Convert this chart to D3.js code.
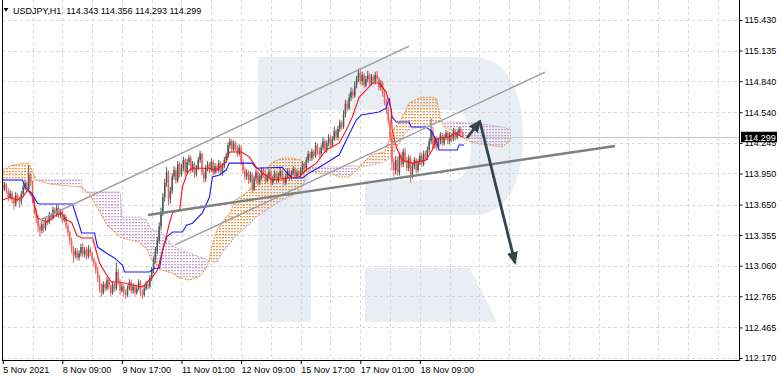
<!DOCTYPE html>
<html><head><meta charset="utf-8">
<script src="https://cdn.jsdelivr.net/npm/d3@7"></script>
<style>
body{margin:0;background:#fff;}
svg{display:block;font-family:"Liberation Sans",Arial,sans-serif;}
</style>
</head><body>
<svg id="chart" width="782" height="380"></svg>
<script>
// ---------- data ----------
const symbol = "USDJPY,H1";
const headerOHLC = ["114.343", "114.356", "114.293", "114.299"];
const lastPrice = 114.299;
const priceTicks = [115.430, 115.135, 114.840, 114.540, 114.245, 113.950, 113.650, 113.355, 113.060, 112.765, 112.465, 112.170];
const timeLabels = ["5 Nov 2021", "8 Nov 09:00", "9 Nov 17:00", "11 Nov 01:00", "12 Nov 09:00", "15 Nov 17:00", "17 Nov 01:00", "18 Nov 09:00"];
const timeLabelBars = [0, 32, 64, 96, 128, 160, 192, 224];

const opens = [
113.86,113.80,113.84,113.78,113.72,113.76,113.70,113.66,113.74,113.71,
113.68,113.75,113.82,113.86,113.80,113.94,113.86,113.70,113.58,113.52,
113.44,113.40,113.46,113.42,113.50,113.48,113.55,113.52,113.60,113.56,
113.62,113.55,113.58,113.50,113.53,113.44,113.38,113.30,113.22,113.16,
113.20,113.14,113.18,113.24,113.17,113.21,113.15,113.22,113.18,113.12,
113.08,113.02,112.94,112.86,112.80,112.88,112.84,112.92,112.86,112.80,
112.88,112.84,113.00,112.90,112.82,112.86,112.80,112.78,112.84,112.90,
112.82,112.86,112.80,112.84,112.90,112.80,112.78,112.84,112.88,112.86,
112.94,113.02,113.12,113.20,113.30,113.44,113.58,113.72,113.86,113.96,
113.70,113.78,113.92,113.98,113.88,114.04,113.94,114.00,114.08,113.96,
114.06,114.10,113.98,114.04,113.94,114.00,114.08,114.14,113.96,113.90,
114.00,114.04,113.98,114.06,113.96,114.02,113.98,114.05,113.96,114.02,
114.08,114.12,114.22,114.26,114.18,114.24,114.20,114.14,114.20,114.06,
113.98,113.92,113.96,113.88,113.94,113.80,113.90,113.96,113.86,113.92,
113.98,113.94,113.88,113.92,113.96,113.86,113.90,113.95,113.88,113.93,
113.97,113.90,113.86,113.92,113.97,113.91,113.95,113.99,113.92,113.96,
113.94,113.98,114.04,114.00,114.08,114.14,114.10,114.16,114.12,114.22,
114.17,114.14,114.20,114.26,114.18,114.24,114.30,114.22,114.28,114.36,
114.30,114.38,114.44,114.40,114.52,114.62,114.58,114.68,114.74,114.70,
114.80,114.86,114.92,114.84,114.90,114.80,114.86,114.90,114.82,114.88,
114.84,114.90,114.86,114.78,114.82,114.72,114.64,114.56,114.46,114.30,
114.06,113.98,114.08,113.96,114.12,114.04,114.16,114.08,114.00,114.10,
113.94,114.02,114.08,113.98,114.06,114.12,114.04,114.14,114.10,114.18,
114.26,114.36,114.22,114.28,114.20,114.26,114.32,114.24,114.30,114.34,
114.26,114.32,114.28,114.36,114.30,114.34,114.38,114.343];
const highs = [
113.90,113.87,113.86,113.81,113.79,113.78,113.73,113.77,113.76,113.73,
113.78,113.84,113.89,113.88,114.03,113.96,113.88,113.72,113.61,113.55,
113.47,113.49,113.48,113.53,113.52,113.58,113.57,113.63,113.62,113.65,
113.64,113.61,113.60,113.56,113.55,113.47,113.40,113.33,113.25,113.23,
113.23,113.21,113.27,113.28,113.24,113.24,113.26,113.24,113.20,113.14,
113.10,113.05,112.97,112.89,112.91,112.90,112.95,112.94,112.88,112.91,
112.90,113.09,113.03,112.93,112.89,112.88,112.83,112.87,112.93,112.92,
112.89,112.88,112.87,112.93,112.92,112.83,112.87,112.91,112.90,112.97,
113.05,113.15,113.24,113.34,113.48,113.62,113.76,113.90,114.01,113.98,
113.82,113.95,114.02,114.01,114.07,114.06,114.04,114.11,114.10,114.09,
114.13,114.12,114.07,114.06,114.03,114.11,114.17,114.15,113.99,114.03,
114.07,114.06,114.09,114.08,114.05,114.04,114.08,114.07,114.05,114.11,
114.15,114.25,114.29,114.28,114.27,114.26,114.22,114.23,114.22,114.09,
114.01,113.99,113.98,113.97,113.96,113.93,113.99,113.98,113.95,114.01,
114.01,113.97,113.95,113.99,113.98,113.93,113.98,113.97,113.96,114.00,
113.99,113.93,113.95,114.00,113.99,113.98,114.02,114.01,113.99,113.98,
114.01,114.07,114.06,114.11,114.17,114.16,114.19,114.18,114.25,114.24,
114.20,114.23,114.30,114.28,114.27,114.33,114.32,114.31,114.40,114.38,
114.41,114.47,114.46,114.56,114.66,114.65,114.72,114.78,114.77,114.84,
114.89,114.96,114.95,114.93,114.92,114.89,114.94,114.92,114.91,114.90,
114.93,114.94,114.88,114.85,114.84,114.75,114.67,114.59,114.49,114.33,
114.10,114.12,114.11,114.15,114.15,114.19,114.20,114.11,114.13,114.12,
114.05,114.11,114.10,114.09,114.15,114.15,114.17,114.17,114.21,114.29,
114.48,114.40,114.31,114.31,114.29,114.35,114.34,114.33,114.37,114.36,
114.35,114.34,114.39,114.38,114.36,114.40,114.40,114.356];
const lows = [
113.76,113.78,113.75,113.68,113.70,113.66,113.60,113.63,113.68,113.62,
113.65,113.72,113.79,113.77,113.78,113.83,113.66,113.55,113.47,113.38,
113.34,113.37,113.38,113.40,113.45,113.46,113.49,113.50,113.54,113.53,
113.52,113.52,113.47,113.48,113.41,113.34,113.26,113.18,113.09,113.13,
113.11,113.11,113.15,113.14,113.14,113.12,113.13,113.15,113.10,113.05,
112.98,112.90,112.80,112.76,112.78,112.81,112.82,112.83,112.77,112.78,
112.81,112.82,112.87,112.78,112.80,112.77,112.74,112.76,112.82,112.79,
112.79,112.77,112.78,112.82,112.77,112.74,112.76,112.82,112.83,112.84,
112.91,112.99,113.08,113.17,113.27,113.40,113.54,113.68,113.82,113.64,
113.66,113.75,113.89,113.85,113.86,113.91,113.92,113.97,113.93,113.94,
114.03,113.95,113.96,113.91,113.92,113.98,114.05,113.93,113.86,113.87,
113.97,113.95,113.96,113.93,113.94,113.95,113.96,113.93,113.93,114.00,
114.05,114.10,114.19,114.15,114.16,114.17,114.11,114.12,114.03,113.95,
113.88,113.89,113.85,113.86,113.76,113.78,113.87,113.83,113.84,113.89,
113.91,113.85,113.86,113.89,113.83,113.84,113.88,113.85,113.86,113.91,
113.87,113.83,113.84,113.90,113.88,113.89,113.93,113.90,113.90,113.91,
113.91,113.95,113.97,113.98,114.05,114.07,114.07,114.09,114.10,114.13,
114.10,114.11,114.17,114.15,114.15,114.21,114.19,114.20,114.26,114.27,
114.27,114.35,114.37,114.38,114.49,114.55,114.56,114.65,114.67,114.68,
114.77,114.83,114.81,114.80,114.77,114.78,114.83,114.79,114.80,114.81,
114.81,114.83,114.75,114.75,114.69,114.61,114.52,114.42,114.26,113.98,
113.92,113.94,113.93,113.93,114.01,114.01,114.05,113.97,113.97,113.86,
113.90,113.99,113.95,113.96,114.03,114.01,114.02,114.07,114.08,114.15,
114.23,114.18,114.19,114.17,114.18,114.23,114.21,114.22,114.27,114.23,
114.23,114.25,114.26,114.27,114.28,114.31,114.32,114.293];
const closes = [
113.80,113.84,113.78,113.72,113.76,113.70,113.66,113.74,113.71,113.68,
113.75,113.82,113.86,113.80,113.94,113.86,113.70,113.58,113.52,113.44,
113.40,113.46,113.42,113.50,113.48,113.55,113.52,113.60,113.56,113.62,
113.55,113.58,113.50,113.53,113.44,113.38,113.30,113.22,113.16,113.20,
113.14,113.18,113.24,113.17,113.21,113.15,113.22,113.18,113.12,113.08,
113.02,112.94,112.86,112.80,112.88,112.84,112.92,112.86,112.80,112.88,
112.84,113.00,112.90,112.82,112.86,112.80,112.78,112.84,112.90,112.82,
112.86,112.80,112.84,112.90,112.80,112.78,112.84,112.88,112.86,112.94,
113.02,113.12,113.20,113.30,113.44,113.58,113.72,113.86,113.96,113.70,
113.78,113.92,113.98,113.88,114.04,113.94,114.00,114.08,113.96,114.06,
114.10,113.98,114.04,113.94,114.00,114.08,114.14,113.96,113.90,114.00,
114.04,113.98,114.06,113.96,114.02,113.98,114.05,113.96,114.02,114.08,
114.12,114.22,114.26,114.18,114.24,114.20,114.14,114.20,114.06,113.98,
113.92,113.96,113.88,113.94,113.80,113.90,113.96,113.86,113.92,113.98,
113.94,113.88,113.92,113.96,113.86,113.90,113.95,113.88,113.93,113.97,
113.90,113.86,113.92,113.97,113.91,113.95,113.99,113.92,113.96,113.94,
113.98,114.04,114.00,114.08,114.14,114.10,114.16,114.12,114.22,114.17,
114.14,114.20,114.26,114.18,114.24,114.30,114.22,114.28,114.36,114.30,
114.38,114.44,114.40,114.52,114.62,114.58,114.68,114.74,114.70,114.80,
114.86,114.92,114.84,114.90,114.80,114.86,114.90,114.82,114.88,114.84,
114.90,114.86,114.78,114.82,114.72,114.64,114.56,114.46,114.30,114.06,
113.98,114.08,113.96,114.12,114.04,114.16,114.08,114.00,114.10,113.94,
114.02,114.08,113.98,114.06,114.12,114.04,114.14,114.10,114.18,114.26,
114.36,114.22,114.28,114.20,114.26,114.32,114.24,114.30,114.34,114.26,
114.32,114.28,114.36,114.30,114.34,114.38,114.343,114.299];

// Ichimoku lines (bar index, price)
const tenkanBars = [0,3.8,7.5,10.7,13.4,16.1,18.8,23.6,29,31.6,34.3,37,39.7,42.4,48.3,50.4,52,55.8,58.4,62.7,69.7,75,77.7,80.4,83.1,87.4,89.5,91.2,95,96.5,98.7,100.3,101.9,111,114.7,120,121.7,128.2,132.4,136.2,139.4,144.8,153.9,159.2,163,168.4,173.7,180.7,184.5,187.7,191.4,195.2,198.4,202.1,205.9,208.6,209.1,211.3,214.5,219.8,227.3,230.6,232.7,234.3,239.7,243.4,246.6];
const tenkanVals = [113.694,113.72,113.694,113.72,113.79,113.72,113.52,113.48,113.55,113.57,113.50,113.48,113.357,113.327,113.327,113.19,113.086,112.97,112.903,112.903,112.874,112.855,112.903,112.95,113.02,113.308,113.47,113.57,113.597,113.82,113.935,113.983,114.0,114.0,113.983,114.06,114.157,114.157,114.11,114.01,113.955,113.887,113.906,113.916,113.983,114.05,114.176,114.244,114.369,114.494,114.687,114.755,114.822,114.822,114.735,114.562,114.369,114.205,114.08,114.05,114.08,114.176,114.273,114.292,114.302,114.34,114.302];
const kijunBars = [0,10.7,11.8,15.5,18.8,19.8,37.5,39.7,42.4,49.3,50.9,55.8,60,64.3,65.4,78.8,81.5,84.2,85.8,88,91.2,96.5,98.7,101.9,107.2,111,112.6,116.4,120,121.7,134,136.2,150.1,152.3,155.5,160.9,164.6,170,173.7,180.7,184.5,189.8,192.5,202,205.9,207.5,209.1,211.3,218.2,219.3,227.3,230,232.7,234.3,244,245,247.7];
const kijunVals = [113.887,113.887,113.82,113.76,113.66,113.655,113.655,113.53,113.376,113.376,113.24,113.18,113.135,113.067,113.0,113.0,113.035,113.035,113.21,113.337,113.385,113.385,113.45,113.47,113.57,113.72,113.916,113.935,113.983,114.05,114.05,114.0,114.01,113.96,113.906,113.906,113.955,114.01,114.05,114.13,114.273,114.465,114.514,114.543,114.58,114.678,114.495,114.446,114.446,114.398,114.398,114.36,114.273,114.176,114.176,114.224,114.224];
const cloudBars = [0,5,14,18,25,42,43,47,50,56,63,64,73,77,80,85,91,95,100,106,110,113,115,118,122,125,130,136,140,145,150,155,160,163,165,170,175,181,186,190,194,198,205,209,213,216,218,224,230,233,235,237,242,249,253,261,268,273];
const spanA = [113.983,114.031,114.051,113.887,113.848,113.819,113.810,113.742,113.646,113.453,113.337,113.327,113.289,113.231,113.115,113.019,112.990,112.942,112.922,112.961,113.057,113.289,113.405,113.482,113.569,113.694,113.752,113.858,113.964,114.060,114.099,114.099,114.080,114.003,113.983,113.945,113.954,113.916,113.916,113.983,114.060,114.128,114.157,114.350,114.446,114.543,114.629,114.678,114.687,114.668,114.485,114.398,114.359,114.273,114.244,114.224,114.205,114.273];
const spanB = [113.887,113.887,113.887,113.887,113.887,113.887,113.771,113.771,113.771,113.771,113.771,113.530,113.530,113.501,113.405,113.385,113.260,113.212,113.183,113.144,113.115,113.096,113.096,113.192,113.279,113.347,113.424,113.530,113.578,113.636,113.694,113.733,113.790,113.906,114.003,114.012,114.012,114.012,114.022,114.022,114.022,114.031,114.060,114.128,114.244,114.340,114.369,114.398,114.427,114.446,114.446,114.446,114.446,114.437,114.437,114.417,114.398,114.369];

// drawn objects (bar index, price)
const channelUpper = [[20.0, 113.501], [218.2, 115.179]];
const channelLower = [[92.5, 113.260], [291.2, 114.928]];
const supportLine = [[78.0, 113.549], [328.8, 114.215]];
const arrowUp = [[249.3, 114.292], [256.3, 114.456]];
const arrowDown = [[256.3, 114.446], [275.1, 113.086]];

// ---------- drawing ----------
const W = 782, H = 380;
const plotL = 2, plotR = 739.5, plotT = 0, plotB = 360;
const svg = d3.select("#chart");
const x = d3.scaleLinear().domain([0, 224]).range([2.7, 419.9]);
const y = d3.scaleLinear().domain([112.170, 115.430]).range([358, 20]);

svg.append("rect").attr("width", W).attr("height", H).attr("fill", "#fff");

const defs = svg.append("defs");
defs.append("clipPath").attr("id", "plotClip").append("rect")
  .attr("x", plotL).attr("y", plotT).attr("width", plotR - plotL).attr("height", plotB - plotT);
function hatch(id, color) {
  const p = defs.append("pattern").attr("id", id).attr("patternUnits", "userSpaceOnUse")
    .attr("width", 3).attr("height", 3);
  p.append("rect").attr("x", 0).attr("y", 0).attr("width", 2).attr("height", 1.3).attr("fill", color);
}
hatch("hatchA", "#ee9a4e");
hatch("hatchB", "#c9a3d2");
const cloud = cloudBars.map((b, i) => ({ b, a: spanA[i], s: spanB[i] }));
defs.append("clipPath").attr("id", "clipAboveB").append("path")
  .attr("d", d3.area().x(d => x(d.b)).y0(0).y1(d => y(d.s))(cloud));
defs.append("clipPath").attr("id", "clipAboveA").append("path")
  .attr("d", d3.area().x(d => x(d.b)).y0(0).y1(d => y(d.a))(cloud));
const mk = defs.append("marker").attr("id", "ahead").attr("markerUnits", "userSpaceOnUse")
  .attr("markerWidth", 13).attr("markerHeight", 11).attr("refX", 11).attr("refY", 5.5)
  .attr("orient", "auto").attr("viewBox", "0 0 13 11");
mk.append("path").attr("d", "M0,0 L13,5.5 L0,11 Z").attr("fill", "#36444b");

const g = svg.append("g").attr("clip-path", "url(#plotClip)");

// watermark
g.append("path").attr("fill", "#e9eef5")
  .attr("d", "M258,57 L473,57 C505,57 523,88 523,136 C523,186 505,215 473,215 L365,215 L365,180 L453,180 C465,180 471,165 471,145 C471,125 465,110 453,110 L311,110 L311,322 L258,322 Z M365,268 L470,268 L497,322 L365,322 Z");

// grid
const gridV = [];
for (let b = 16; x(b) < plotR; b += 16) gridV.push(b);
g.selectAll(".gv").data(gridV).join("line")
  .attr("x1", d => Math.round(x(d)) + 0.5).attr("x2", d => Math.round(x(d)) + 0.5)
  .attr("y1", plotT).attr("y2", plotB)
  .attr("stroke", "#d6d6d6").attr("stroke-dasharray", "3,3");
g.selectAll(".gh").data(priceTicks).join("line")
  .attr("x1", plotL).attr("x2", plotR)
  .attr("y1", d => Math.round(y(d)) + 0.5).attr("y2", d => Math.round(y(d)) + 0.5)
  .attr("stroke", "#d6d6d6").attr("stroke-dasharray", "3,3");

// last price line
g.append("line").attr("x1", plotL).attr("x2", plotR)
  .attr("y1", Math.round(y(lastPrice)) + 0.5).attr("y2", Math.round(y(lastPrice)) + 0.5)
  .attr("stroke", "#c8c8c8");

// cloud
const between = d3.area().x(d => x(d.b)).y0(d => y(d.a)).y1(d => y(d.s));
g.append("path").attr("d", between(cloud)).attr("fill", "url(#hatchA)").attr("clip-path", "url(#clipAboveB)");
g.append("path").attr("d", between(cloud)).attr("fill", "url(#hatchB)").attr("clip-path", "url(#clipAboveA)");
g.append("path").attr("d", d3.line().x(d => x(d.b)).y(d => y(d.s))(cloud))
  .attr("fill", "none").attr("stroke", "#cda9d4").attr("stroke-width", 1.1).attr("stroke-dasharray", "2,1");
g.append("path").attr("d", d3.line().x(d => x(d.b)).y(d => y(d.a))(cloud))
  .attr("fill", "none").attr("stroke", "#ee9a4e").attr("stroke-width", 1.1).attr("stroke-dasharray", "2,1");

// candles
const bars = closes.map((c, i) => ({ i, o: opens[i], h: highs[i], l: lows[i], c }));
const bull = "#4a5b57", bear = "#f25f5c";
g.selectAll(".wick").data(bars).join("line")
  .attr("x1", d => x(d.i)).attr("x2", d => x(d.i))
  .attr("y1", d => y(d.h)).attr("y2", d => y(d.l))
  .attr("stroke", d => d.c >= d.o ? bull : bear).attr("stroke-width", 1);
g.selectAll(".body").data(bars).join("rect")
  .attr("x", d => x(d.i) - 0.75).attr("width", 1.5)
  .attr("y", d => y(Math.max(d.o, d.c)))
  .attr("height", d => Math.max(1, Math.abs(y(d.o) - y(d.c))))
  .attr("fill", d => d.c >= d.o ? bull : bear);

// tenkan / kijun
const pl = d3.line().x(d => x(d[0])).y(d => y(d[1]));
g.append("path").attr("d", pl(d3.zip(kijunBars, kijunVals)))
  .attr("fill", "none").attr("stroke", "#1a1aff").attr("stroke-width", 1.1);
g.append("path").attr("d", pl(d3.zip(tenkanBars, tenkanVals)))
  .attr("fill", "none").attr("stroke", "#ff1010").attr("stroke-width", 1.1);

// drawn lines
g.append("path").attr("d", pl(channelUpper)).attr("stroke", "#9e9e9e").attr("stroke-width", 1.4).attr("fill", "none");
g.append("path").attr("d", pl(channelLower)).attr("stroke", "#9e9e9e").attr("stroke-width", 1.4).attr("fill", "none");
g.append("path").attr("d", pl(supportLine)).attr("stroke", "#7c8080").attr("stroke-width", 2.4).attr("fill", "none");
g.append("path").attr("d", pl(arrowUp)).attr("stroke", "#36444b").attr("stroke-width", 2.8).attr("fill", "none").attr("marker-end", "url(#ahead)");
g.append("path").attr("d", pl(arrowDown)).attr("stroke", "#36444b").attr("stroke-width", 2.8).attr("fill", "none").attr("marker-end", "url(#ahead)");

// frame
svg.append("line").attr("x1", plotL + 0.5).attr("x2", plotL + 0.5).attr("y1", plotT).attr("y2", plotB).attr("stroke", "#000");
svg.append("line").attr("x1", plotR).attr("x2", plotR).attr("y1", plotT).attr("y2", plotB + 0.5).attr("stroke", "#000");
svg.append("line").attr("x1", plotL).attr("x2", plotR).attr("y1", plotB + 0.5).attr("y2", plotB + 0.5).attr("stroke", "#000");

// right axis
const ya = svg.append("g").attr("transform", `translate(${plotR},0)`)
  .call(d3.axisRight(y).tickValues(priceTicks).tickFormat(d3.format(".3f")).tickSize(3).tickPadding(2));
ya.select(".domain").remove();
ya.selectAll("text").attr("font-size", 9).attr("font-family", "Liberation Sans, Arial, sans-serif").attr("fill", "#000");
ya.selectAll("line").attr("stroke", "#000");

// bottom axis
const xa = svg.append("g").attr("transform", `translate(0,${plotB})`)
  .call(d3.axisBottom(x).tickValues(timeLabelBars).tickFormat((d, i) => timeLabels[i]).tickSize(4).tickPadding(3));
xa.select(".domain").remove();
xa.selectAll("text").attr("font-size", 9).attr("font-family", "Liberation Sans, Arial, sans-serif")
  .attr("text-anchor", "start").attr("fill", "#000");
xa.selectAll("line").attr("stroke", "#000");

// last price label (covers the upper half of the 114.245 label, as in the reference)
const ly = y(lastPrice);
svg.append("rect").attr("x", plotR + 1.5).attr("y", ly - 5.5).attr("width", 36).attr("height", 10.5).attr("fill", "#000");
svg.append("text").attr("x", plotR + 4.5).attr("y", ly + 3.3).attr("font-size", 9).attr("fill", "#fff").text(lastPrice.toFixed(3));

// header
svg.append("path").attr("d", "M3.5,8 L8.5,8 L6,11.5 Z").attr("fill", "#000");
svg.append("text").attr("x", 13).attr("y", 13.5).attr("font-size", 9).attr("fill", "#000")
  .style("white-space", "pre").text(symbol + "  " + headerOHLC.join(" "));
</script>
</body></html>
